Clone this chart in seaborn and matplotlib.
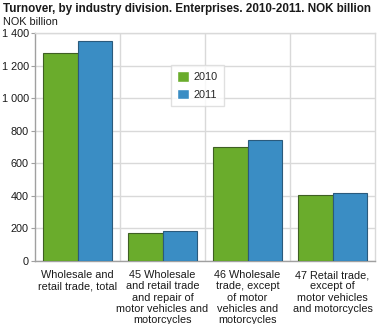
import matplotlib
matplotlib.use("Agg")
import matplotlib.pyplot as plt
import matplotlib.ticker as mticker
import seaborn as sns
import pandas as pd

categories = [
    "Wholesale and\nretail trade, total",
    "45 Wholesale\nand retail trade\nand repair of\nmotor vehicles and\nmotorcycles",
    "46 Wholesale\ntrade, except\nof motor\nvehicles and\nmotorcycles",
    "47 Retail trade,\nexcept of\nmotor vehicles\nand motorcycles",
]
years = ["2010", "2011"]
values_2010 = [1278, 173, 703, 404]
values_2011 = [1348, 184, 744, 418]
yticks = [0, 200, 400, 600, 800, 1000, 1200, 1400]

df = pd.DataFrame({
    "category": categories * 2,
    "year": [years[0]] * 4 + [years[1]] * 4,
    "value": values_2010 + values_2011,
})

sns.set_style("white")
plt.rcParams["font.family"] = ["Liberation Sans", "DejaVu Sans"]

FS = 7.8
fig = plt.figure(figsize=(3.79, 3.24), dpi=100)
ax = fig.add_axes([35 / 379, 1 - 261 / 324, 340 / 379, 228 / 324])

palette = {"2010": "#6aac2c", "2011": "#3a8dc4"}
edges = {"2010": "#3f5f24", "2011": "#2a5a7c"}
sns.barplot(data=df, x="category", y="value", hue="year", palette=palette,
            width=0.81, saturation=1, ax=ax, zorder=3)
for cont, yr in zip(ax.containers, years):
    for p in cont:
        p.set_edgecolor(edges[yr])
        p.set_linewidth(0.8)

ax.set_xlim(-0.5, 3.5)
ax.set_ylim(0, 1400)
ax.set_yticks(yticks)
ax.yaxis.set_major_formatter(mticker.FuncFormatter(lambda v, p: f"{int(v):,}".replace(",", " ")))
ax.set_xticks([0.5, 1.5, 2.5], minor=True)
ax.grid(True, axis="y", which="major", color="#d9d9d9", linewidth=1, zorder=0)
ax.grid(True, axis="x", which="minor", color="#d9d9d9", linewidth=1, zorder=0)
ax.set_xlabel("")
ax.set_ylabel("")
for s in ax.spines.values():
    s.set_color("#d9d9d9")
    s.set_linewidth(1)
ax.spines["left"].set_color("#a0a0a0")
ax.spines["bottom"].set_color("#a0a0a0")
ax.tick_params(axis="y", which="major", left=True, length=3, color="#a0a0a0",
               labelsize=FS, pad=1.5, labelcolor="#1a1a1a")
ax.tick_params(axis="x", which="both", bottom=False, labelsize=FS, pad=3,
               labelcolor="#1a1a1a")
for lab in ax.get_xticklabels():
    lab.set_linespacing(1.17)
    lab.set_verticalalignment("top")

leg = ax.legend(loc="upper left", bbox_to_anchor=(0.399, 0.86), borderaxespad=0,
                frameon=True, fontsize=FS, handlelength=1.1, handleheight=1.1,
                handletextpad=0.4, labelspacing=0.6, borderpad=0.6, fancybox=False)
leg.get_frame().set_edgecolor("#d9d9d9")
leg.get_frame().set_linewidth(1)
leg.set_zorder(5)

fig.text(3 / 379, 1 - 9 / 324, "Turnover, by industry division. Enterprises. 2010-2011. NOK billion",
         fontsize=8.35, fontweight="bold", va="center", ha="left", color="#1a1a1a")
fig.text(3 / 379, 1 - 22 / 324, "NOK billion", fontsize=FS, va="center", ha="left", color="#1a1a1a")

fig.savefig("out.png", dpi=100)
